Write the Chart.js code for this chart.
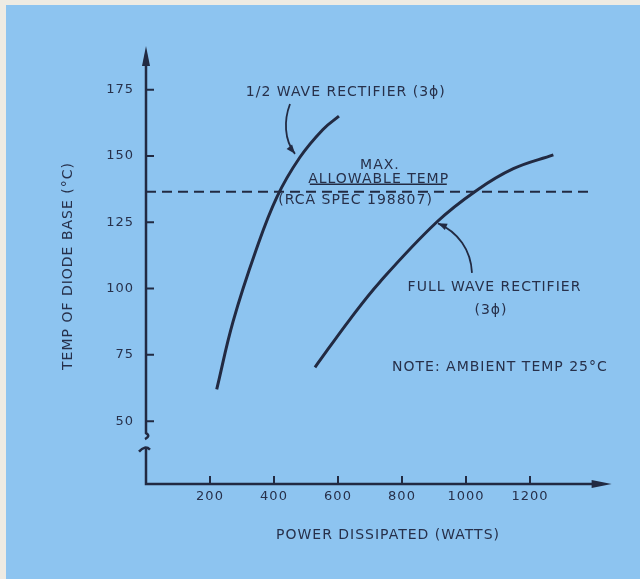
<!DOCTYPE html>
<html>
<head>
<meta charset="utf-8">
<script src="https://cdn.jsdelivr.net/npm/chart.js@4.4.1/dist/chart.umd.min.js"></script>
<style>
  html, body { margin: 0; padding: 0; background: #8dc4f0; }
  canvas { display: block; }
</style>
</head>
<body>
<canvas id="c" width="640" height="579"></canvas>
<script>
// ---- data ----
const powerTicks = [200, 400, 600, 800, 1000, 1200];          // W
const tempTicks = [50, 75, 100, 125, 150, 175];               // °C
const halfWaveWatts = [221, 272, 344, 409, 481, 553, 603];
const halfWaveTemp  = [62, 87.5, 114.5, 134.5, 149.5, 160, 165];
const fullWaveWatts = [528, 638, 731, 908, 1033, 1148, 1273];
const fullWaveTemp  = [70.3, 88.5, 102.5, 125, 137, 145.2, 150.4];
const maxTempWatts  = [0, 1390];
const maxTempValue  = [136.5, 136.5];

// ---- styling / layout ----
const INK = '#222a42';
const TEXT = '#27304a';
const FONT = '"DejaVu Sans", "Liberation Sans", sans-serif';
const X_MIN = 0, X_MAX = 1512.5;
const Y_MIN = 26.3, Y_MAX = 190.7;
const X_ARROW_END = 1455;      // value where x-axis arrow tip sits
const BREAK_UPPER = 45.5, BREAK_LOWER = 40;

const toPts = (xs, ys) => xs.map((x, i) => ({ x: x, y: ys[i] }));

// annotation anchors in data units
const labels = [
  { text: '1/2 WAVE RECTIFIER (3\u03D5)', x: 312, y: 173.8, align: 'left' },
  { text: 'MAX.', x: 731, y: 146.6, align: 'center' },
  { text: 'ALLOWABLE TEMP', x: 727, y: 141.2, align: 'center', underline: [512, 940, 139.3] },
  { text: '(RCA SPEC 198807)', x: 655, y: 133.4, align: 'center' },
  { text: 'FULL WAVE RECTIFIER', x: 1089, y: 100.6, align: 'center' },
  { text: '(3\u03D5)', x: 1078, y: 91.6, align: 'center' },
  { text: 'NOTE: AMBIENT TEMP 25\u00B0C', x: 1106, y: 70.4, align: 'center' }
];
const pointers = [
  [[450, 169.6], [431, 163.6], [431, 156], [465.6, 150.8]],
  [[1018.7, 105.9], [1015.6, 114.6], [975, 121.3], [912.5, 124.6]]
];

function arrowHead(ctx, tx, ty, fx, fy, len, half) {
  const a = Math.atan2(ty - fy, tx - fx);
  ctx.beginPath();
  ctx.moveTo(tx, ty);
  ctx.lineTo(tx - len * Math.cos(a) + half * Math.sin(a), ty - len * Math.sin(a) - half * Math.cos(a));
  ctx.lineTo(tx - len * Math.cos(a) - half * Math.sin(a), ty - len * Math.sin(a) + half * Math.cos(a));
  ctx.closePath();
  ctx.fill();
}

const drawPlugin = {
  id: 'drawing',
  beforeUpdate(chart) { chart.ctx.letterSpacing = '1px'; },
  beforeDraw(chart) {
    const { ctx, width, height } = chart;
    ctx.save();
    ctx.fillStyle = '#eeebe3';
    ctx.fillRect(0, 0, width, height);
    ctx.fillStyle = '#8dc4f0';
    ctx.fillRect(6, 5, width - 6, height - 5);
    ctx.restore();
    ctx.letterSpacing = '1px';
  },
  beforeDatasetsDraw(chart) {
    const ctx = chart.ctx;
    const xs = chart.scales.x, ys = chart.scales.y;
    const x0 = xs.getPixelForValue(0);
    const yb = ys.getPixelForValue(Y_MIN);
    const yt = ys.getPixelForValue(Y_MAX);
    const xe = xs.getPixelForValue(X_ARROW_END);
    const b1 = ys.getPixelForValue(BREAK_UPPER);
    const b2 = ys.getPixelForValue(BREAK_LOWER);
    ctx.save();
    ctx.strokeStyle = INK;
    ctx.fillStyle = INK;
    ctx.lineWidth = 2.5;
    ctx.lineJoin = 'miter';
    // upper y-axis piece with break squiggle
    ctx.beginPath();
    ctx.moveTo(x0, yt + 10);
    ctx.lineTo(x0, b1);
    ctx.quadraticCurveTo(x0 + 5, b1 + 3, x0 - 1, b1 + 6);
    ctx.stroke();
    // lower piece with hook
    ctx.beginPath();
    ctx.moveTo(x0 - 7, b2 + 4);
    ctx.quadraticCurveTo(x0 - 1, b2 - 3, x0 + 4, b2 + 2);
    ctx.stroke();
    ctx.beginPath();
    ctx.moveTo(x0, b2);
    ctx.lineTo(x0, yb);
    ctx.lineTo(xe - 14, yb);
    ctx.stroke();
    // arrowheads
    arrowHead(ctx, x0, yt - 2, x0, yt + 30, 20, 4);
    arrowHead(ctx, xe, yb, xe - 30, yb, 20, 4);
    // tick marks
    ctx.lineWidth = 2;
    ctx.beginPath();
    powerTicks.forEach(v => {
      const p = xs.getPixelForValue(v);
      ctx.moveTo(p, yb);
      ctx.lineTo(p, yb - 8);
    });
    tempTicks.forEach(v => {
      const p = ys.getPixelForValue(v);
      ctx.moveTo(x0, p);
      ctx.lineTo(x0 + 8, p);
    });
    ctx.stroke();
    ctx.restore();
  },
  afterDatasetsDraw(chart) {
    const ctx = chart.ctx;
    const xs = chart.scales.x, ys = chart.scales.y;
    const P = (p) => [xs.getPixelForValue(p[0]), ys.getPixelForValue(p[1])];
    ctx.save();
    ctx.fillStyle = TEXT;
    ctx.strokeStyle = INK;
    ctx.font = '14px ' + FONT;
    ctx.letterSpacing = '1px';
    ctx.textBaseline = 'middle';
    labels.forEach(l => {
      ctx.textAlign = l.align;
      ctx.fillText(l.text, xs.getPixelForValue(l.x), ys.getPixelForValue(l.y));
      if (l.underline) {
        const uy = ys.getPixelForValue(l.underline[2]);
        ctx.lineWidth = 1.5;
        ctx.beginPath();
        ctx.moveTo(xs.getPixelForValue(l.underline[0]), uy);
        ctx.lineTo(xs.getPixelForValue(l.underline[1]), uy);
        ctx.stroke();
      }
    });
    ctx.lineWidth = 1.8;
    ctx.fillStyle = INK;
    pointers.forEach(pt => {
      const [a, b, c, d] = pt.map(P);
      ctx.beginPath();
      ctx.moveTo(a[0], a[1]);
      ctx.bezierCurveTo(b[0], b[1], c[0], c[1], d[0], d[1]);
      ctx.stroke();
      arrowHead(ctx, d[0], d[1], c[0], c[1], 9, 3.5);
    });
    ctx.restore();
  }
};

const tickFont = { family: FONT, size: 13 };

new Chart(document.getElementById('c'), {
  type: 'line',
  data: {
    datasets: [
      {
        label: '1/2 wave rectifier (3\u03D5)',
        data: toPts(halfWaveWatts, halfWaveTemp),
        borderColor: INK, borderWidth: 3, pointRadius: 0,
        tension: 0.4, fill: false
      },
      {
        label: 'Full wave rectifier (3\u03D5)',
        data: toPts(fullWaveWatts, fullWaveTemp),
        borderColor: INK, borderWidth: 3, pointRadius: 0,
        tension: 0.4, fill: false
      },
      {
        label: 'Max. allowable temp',
        data: toPts(maxTempWatts, maxTempValue),
        borderColor: INK, borderWidth: 2, borderDash: [10, 6], pointRadius: 0,
        fill: false
      }
    ]
  },
  options: {
    responsive: false,
    animation: false,
    events: [],
    layout: { padding: { top: 48, right: 10, left: 0, bottom: 0 } },
    plugins: { legend: { display: false }, tooltip: { enabled: false } },
    scales: {
      x: {
        type: 'linear',
        min: X_MIN, max: X_MAX,
        grid: { display: false, drawTicks: false },
        border: { display: false },
        afterBuildTicks: s => { s.ticks = powerTicks.map(v => ({ value: v })); },
        afterFit: s => { s.height = 95; },
        ticks: { color: TEXT, font: tickFont, padding: 5, maxRotation: 0, autoSkip: false,
                 callback: v => String(v) },
        title: { display: true, text: 'POWER DISSIPATED (WATTS)', color: TEXT,
                 font: { family: FONT, size: 14 }, padding: { top: 0, bottom: 35 } }
      },
      y: {
        type: 'linear',
        min: Y_MIN, max: Y_MAX,
        grid: { display: false, drawTicks: false },
        border: { display: false },
        afterBuildTicks: s => { s.ticks = tempTicks.map(v => ({ value: v })); },
        afterFit: s => { s.width = 146; },
        ticks: { color: TEXT, font: tickFont, padding: 12, autoSkip: false,
                 callback: v => String(v) },
        title: { display: true, text: 'TEMP OF DIODE BASE (\u00B0C)', color: TEXT,
                 font: { family: FONT, size: 14 }, padding: { top: 60, bottom: 0 } }
      }
    }
  },
  plugins: [drawPlugin]
});
</script>
</body>
</html>
